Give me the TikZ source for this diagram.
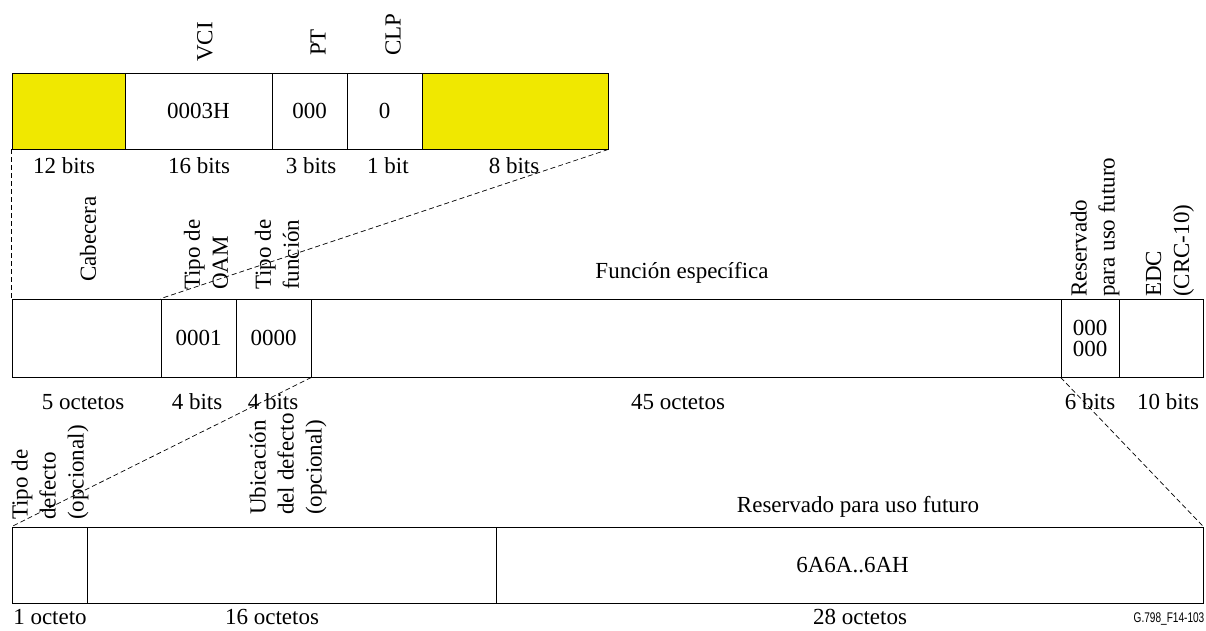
\documentclass[tikz,border=0pt]{standalone}
\usepackage{fontspec}
\setmainfont{Liberation Serif}
\setsansfont{Liberation Sans}
\definecolor{celly}{RGB}{240,232,0}
\begin{document}
\begin{tikzpicture}[x=1pt,y=-1pt,
  txt/.style={inner sep=0pt,font=\fontsize{23}{28}\selectfont},
  vtxt/.style={txt,rotate=90,anchor=west,align=left},
  cell/.style={draw=black,line width=0.8pt,inner sep=0pt,font=\fontsize{23}{21}\selectfont,align=center},
  ycell/.style={cell,fill=celly},
  dashline/.style={draw=black,line width=0.7pt,dash pattern=on 5pt off 3pt}]
\useasboundingbox (0,0) rectangle (1206,630);
% top row (y 73-149)
\node[ycell,minimum width=113pt,minimum height=76pt] (t1) at (68.5,111) {};
\node[cell,minimum width=147pt,minimum height=76pt] (t2) at (198.5,111) {0003H};
\node[cell,minimum width=75pt,minimum height=76pt] (t3) at (309.5,111) {000};
\node[cell,minimum width=75pt,minimum height=76pt] (t4) at (384.5,111) {0};
\node[ycell,minimum width=186pt,minimum height=76pt] (t5) at (515,111) {};
% middle row (y 299-377)
\node[cell,minimum width=149pt,minimum height=78pt] (m1) at (86.5,338) {};
\node[cell,minimum width=75pt,minimum height=78pt] (m2) at (198.5,338) {0001};
\node[cell,minimum width=75pt,minimum height=78pt] (m3) at (273.5,338) {0000};
\node[cell,minimum width=750pt,minimum height=78pt] (m4) at (686,338) {};
\node[cell,minimum width=58pt,minimum height=78pt] (m5) at (1090,338) {000\\000};
\node[cell,minimum width=84pt,minimum height=78pt] (m6) at (1161,338) {};
% bottom row (y 527-603)
\node[cell,minimum width=75pt,minimum height=76pt] (b1) at (49.5,565) {};
\node[cell,minimum width=409pt,minimum height=76pt] (b2) at (291.5,565) {};
\node[cell,minimum width=707pt,minimum height=76pt,text width=700pt] (b3) at (849.5,565) {\hspace*{6pt}6A6A..6AH};
% dashed connectors
\draw[dashline] (t1.south west) -- (m1.north west);
\draw[dashline] (t5.south east) -- (m2.north west);
\draw[dashline] (m3.south east) -- (b1.north west);
\draw[dashline] (m5.south west) -- (b3.north east);
% top labels
\node[vtxt] (lvci) at (205,62) {VCI};
\node[vtxt] (lpt) at (318,56) {PT};
\node[vtxt] (lclp) at (393,56) {CLP};
\node[txt] (s1) at (64,166) {12 bits};
\node[txt] (s2) at (199,166) {16 bits};
\node[txt] (s3) at (311,166) {3 bits};
\node[txt] (s4) at (388,166) {1 bit};
\node[txt] (s5) at (514,166) {8 bits};
% middle labels
\node[vtxt] (lcab) at (88,282) {Cabecera};
\node[vtxt] (loam) at (206,290) {Tipo de\\OAM};
\node[vtxt] (lfun) at (277,290) {Tipo de\\función};
\node[txt] (lfe) at (682,273) {Función específica};
\node[vtxt] (lres) at (1095,297) {Reservado\\para uso futuro};
\node[vtxt] (ledc) at (1170,297) {EDC\\(CRC-10)};
\node[txt] (u1) at (83,402) {5 octetos};
\node[txt] (u2) at (197,402) {4 bits};
\node[txt] (u3) at (273,402) {4 bits};
\node[txt] (u4) at (678,402) {45 octetos};
\node[txt] (u5) at (1090,402) {6 bits};
\node[txt] (u6) at (1168,402) {10 bits};
% bottom labels
\node[vtxt] (ldef) at (50,520) {Tipo de\\defecto\\(opcional)};
\node[vtxt] (lubi) at (288,515) {Ubicación\\del defecto\\(opcional)};
\node[txt] (lrf) at (858,507) {Reservado para uso futuro};
\node[txt] (v1) at (50,617) {1 octeto};
\node[txt] (v2) at (272,617) {16 octetos};
\node[txt] (v3) at (860,617) {28 octetos};
\node[inner sep=0pt,font=\sffamily\fontsize{14}{16}\selectfont] (fig) at (1169,619) {\scalebox{0.72}[1]{G.798\_F14-103}};
\end{tikzpicture}
\end{document}
